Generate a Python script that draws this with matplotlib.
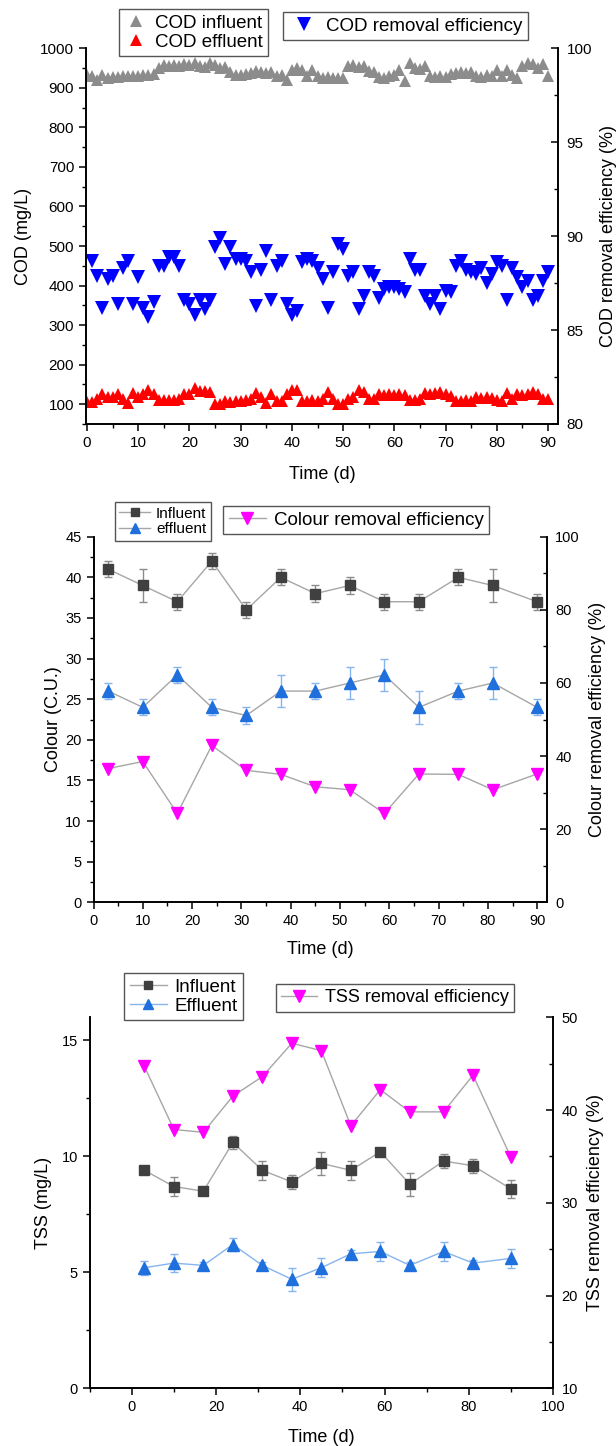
import matplotlib
matplotlib.use('Agg')
import matplotlib.pyplot as plt
from matplotlib.ticker import MultipleLocator
from matplotlib.lines import Line2D

plt.rcParams['font.family'] = ['Liberation Sans', 'DejaVu Sans']
plt.rcParams['axes.linewidth'] = 1.2
plt.rcParams['xtick.major.size'] = 5
plt.rcParams['ytick.major.size'] = 5
plt.rcParams['xtick.minor.size'] = 3
plt.rcParams['ytick.minor.size'] = 3
plt.rcParams['xtick.major.width'] = 1.1
plt.rcParams['ytick.major.width'] = 1.1
plt.rcParams['xtick.minor.width'] = 1.0
plt.rcParams['ytick.minor.width'] = 1.0

# ---- COD (daily) ----
cod_days = list(range(0, 91))
cod_inf = [933, 930, 921, 933, 925, 927, 928, 929, 930, 929, 931, 933, 932, 935, 950, 958,
           955, 958, 956, 960, 957, 964, 955, 952, 962, 958, 950, 952, 940, 933, 932, 935,
           938, 942, 940, 938, 940, 930, 932, 921, 945, 950, 945, 929, 946, 930, 925, 928,
           924, 925, 926, 955, 958, 952, 955, 942, 940, 928, 925, 929, 933, 946, 918, 962,
           950, 948, 955, 929, 927, 930, 928, 935, 938, 940, 937, 940, 930, 928, 932, 929,
           946, 929, 946, 932, 926, 955, 962, 960, 950, 960, 930]
cod_eff = [106, 106, 113, 125, 117, 117, 125, 113, 104, 128, 117, 125, 136, 125, 111, 111,
           110, 111, 113, 125, 125, 142, 134, 134, 132, 100, 100, 108, 106, 108, 108, 110,
           112, 128, 117, 104, 125, 108, 108, 125, 136, 136, 108, 108, 110, 108, 114, 130,
           113, 100, 100, 113, 117, 136, 130, 113, 113, 125, 122, 125, 122, 125, 123, 111,
           111, 113, 128, 126, 128, 130, 125, 121, 108, 108, 110, 108, 117, 115, 117, 115,
           110, 108, 128, 113, 125, 122, 125, 131, 125, 113, 113]
rem_days = list(range(1, 91))
cod_rem = [88.7, 87.9, 86.2, 87.7, 87.9, 86.4, 88.3, 88.7, 86.4, 87.8, 86.2, 85.7, 86.5, 88.4,
           88.4, 88.9, 88.9, 88.4, 86.6, 86.4, 85.8, 86.6, 86.1, 86.6, 89.4, 89.9, 88.5, 89.4,
           88.8, 88.8, 88.7, 88.1, 86.3, 88.2, 89.2, 86.6, 88.4, 88.7, 86.4, 85.8, 86.0, 88.6,
           88.8, 88.7, 88.3, 87.7, 86.2, 88.1, 89.6, 89.3, 87.9, 88.1, 86.1, 86.8, 88.1, 87.9,
           86.7, 87.2, 87.3, 87.3, 87.2, 87.0, 88.8, 88.2, 88.2, 86.8, 86.4, 86.8, 86.1, 87.1,
           87.0, 88.4, 88.7, 88.2, 88.1, 88.0, 88.3, 87.5, 88.0, 88.6, 88.4, 86.6, 88.3, 87.8,
           87.3, 87.6, 86.6, 86.8, 87.6, 88.1]

# ---- Colour ----
col_days = [3, 10, 17, 24, 31, 38, 45, 52, 59, 66, 74, 81, 90]
col_inf = [41, 39, 37, 42, 36, 40, 38, 39, 37, 37, 40, 39, 37]
col_inf_err = [1, 2, 1, 1, 1, 1, 1, 1, 1, 1, 1, 2, 1]
col_eff = [26, 24, 28, 24, 23, 26, 26, 27, 28, 24, 26, 27, 24]
col_eff_err = [1, 1, 1, 1, 1, 2, 1, 2, 2, 2, 1, 2, 1]
col_rem = [36.6, 38.5, 24.3, 42.9, 36.1, 35.0, 31.6, 30.8, 24.3, 35.1, 35.0, 30.8, 35.1]

# ---- TSS ----
tss_days = [3, 10, 17, 24, 31, 38, 45, 52, 59, 66, 74, 81, 90]
tss_inf = [9.4, 8.7, 8.5, 10.6, 9.4, 8.9, 9.7, 9.4, 10.2, 8.8, 9.8, 9.6, 8.6]
tss_inf_err = [0.15, 0.4, 0.1, 0.3, 0.4, 0.3, 0.5, 0.4, 0.15, 0.5, 0.3, 0.3, 0.4]
tss_eff = [5.2, 5.4, 5.3, 6.2, 5.3, 4.7, 5.2, 5.8, 5.9, 5.3, 5.9, 5.4, 5.6]
tss_eff_err = [0.3, 0.4, 0.15, 0.3, 0.15, 0.5, 0.4, 0.15, 0.4, 0.15, 0.4, 0.15, 0.4]
tss_rem = [44.7, 37.9, 37.6, 41.5, 43.6, 47.2, 46.4, 38.3, 42.2, 39.8, 39.8, 43.75, 34.9]

GREY_LINE = '#a6a6a6'
DARK = '#404040'
BLUE = '#1f6fdc'
LBLUE = '#86b4ee'
MAG = '#ff00ff'
LBL = 13

leg_kw = dict(frameon=True, fancybox=False, framealpha=1, edgecolor='#555555',
              borderpad=0.3, labelspacing=0.1, handletextpad=0.4, borderaxespad=0,
              loc='upper left')


def style(ax, ax2, fs):
    ax.spines['top'].set_visible(False)
    ax2.spines['top'].set_visible(False)
    ax.tick_params(which='both', direction='out', right=False, top=False, labelsize=fs)
    ax2.tick_params(which='both', direction='in', left=False, top=False, labelsize=fs, pad=6)


fig = plt.figure(figsize=(6.16, 14.46), dpi=100)

# ================= COD =================
ax = fig.add_axes([0.1396, 0.7068, 0.7667, 0.2598])
ax2 = ax.twinx()
style(ax, ax2, 11)
ax.plot(cod_days, cod_inf, '^', color='#8c8c8c', ms=8.5, mew=0, label='COD influent')
ax.plot(cod_days, cod_eff, '^', color='#ff0000', ms=8.5, mew=0, label='COD effluent')
ax2.plot(rem_days, cod_rem, 'v', color='#0000ff', ms=9.5, mew=0, label='COD removal efficiency')
ax.set_xlim(-0.2, 92)
ax.set_ylim(50, 1000)
ax2.set_ylim(80, 100)
ax.xaxis.set_major_locator(MultipleLocator(10))
ax.xaxis.set_minor_locator(MultipleLocator(5))
ax.yaxis.set_major_locator(MultipleLocator(100))
ax.yaxis.set_minor_locator(MultipleLocator(50))
ax2.yaxis.set_major_locator(MultipleLocator(5))
ax2.yaxis.set_minor_locator(MultipleLocator(2.5))
ax.set_xlabel('Time (d)', fontsize=LBL)
ax.set_ylabel('COD (mg/L)', fontsize=LBL)
ax2.set_ylabel('COD removal efficiency (%)', fontsize=LBL)
ax.xaxis.set_label_coords(0.5, -0.112)
ax.yaxis.set_label_coords(-0.114, 0.5)
ax2.yaxis.set_label_coords(1.089, 0.5)
ax.legend(bbox_to_anchor=(0.1932, 0.9938), bbox_transform=fig.transFigure,
          fontsize=13.5, handlelength=1.2, **leg_kw)
ax2.legend(bbox_to_anchor=(0.4594, 0.9917), bbox_transform=fig.transFigure,
           fontsize=13.5, handlelength=1.6, **leg_kw)

# ================= Colour =================
ax = fig.add_axes([0.1518, 0.376, 0.7362, 0.2528])
ax2 = ax.twinx()
style(ax, ax2, 10.5)
ax.errorbar(col_days, col_inf, yerr=col_inf_err, fmt='-s', color=GREY_LINE, ecolor='#8c8c8c',
            mfc=DARK, mec=DARK, ms=7, lw=1, elinewidth=1, capsize=3, capthick=1)
ax.errorbar(col_days, col_eff, yerr=col_eff_err, fmt='-^', color=GREY_LINE, ecolor=LBLUE,
            mfc=BLUE, mec=BLUE, ms=8.5, lw=1, elinewidth=1, capsize=3, capthick=1)
ax2.plot(col_days, col_rem, '-v', color=GREY_LINE, mfc=MAG, mec=MAG, ms=9, lw=1)
ax.set_xlim(0, 92)
ax.set_ylim(0, 45)
ax2.set_ylim(0, 100)
ax.xaxis.set_major_locator(MultipleLocator(10))
ax.xaxis.set_minor_locator(MultipleLocator(5))
ax.yaxis.set_major_locator(MultipleLocator(5))
ax.yaxis.set_minor_locator(MultipleLocator(2.5))
ax2.yaxis.set_major_locator(MultipleLocator(20))
ax2.yaxis.set_minor_locator(MultipleLocator(10))
ax.set_xlabel('Time (d)', fontsize=LBL)
ax.set_ylabel('Colour (C.U.)', fontsize=LBL)
ax2.set_ylabel('Colour removal efficiency (%)', fontsize=LBL)
ax.xaxis.set_label_coords(0.5, -0.106)
ax.yaxis.set_label_coords(-0.069, 0.5)
ax2.yaxis.set_label_coords(1.093, 0.5)
h_inf = Line2D([], [], color=GREY_LINE, marker='s', mfc=DARK, mec=DARK, ms=6, lw=1)
h_eff = Line2D([], [], color=GREY_LINE, marker='^', mfc=BLUE, mec=BLUE, ms=7, lw=1)
h_rem = Line2D([], [], color=GREY_LINE, marker='v', mfc=MAG, mec=MAG, ms=8, lw=1)
ax.legend([h_inf, h_eff], ['Influent', 'effluent'], bbox_to_anchor=(0.1862, 0.6528),
          bbox_transform=fig.transFigure, fontsize=11, handlelength=2.0, **leg_kw)
ax2.legend([h_rem], ['Colour removal efficiency'], bbox_to_anchor=(0.362, 0.650),
           bbox_transform=fig.transFigure, fontsize=13.5, handlelength=2.0, **leg_kw)

# ================= TSS =================
ax = fig.add_axes([0.1455, 0.0399, 0.7523, 0.2566])
ax2 = ax.twinx()
style(ax, ax2, 10.5)
ax.errorbar(tss_days, tss_inf, yerr=tss_inf_err, fmt='-s', color=GREY_LINE, ecolor='#8c8c8c',
            mfc=DARK, mec=DARK, ms=7, lw=1, elinewidth=1, capsize=3, capthick=1)
ax.errorbar(tss_days, tss_eff, yerr=tss_eff_err, fmt='-^', color=LBLUE, ecolor=LBLUE,
            mfc=BLUE, mec=BLUE, ms=8.5, lw=1, elinewidth=1, capsize=3, capthick=1)
ax2.plot(tss_days, tss_rem, '-v', color=GREY_LINE, mfc=MAG, mec=MAG, ms=9, lw=1)
ax.set_xlim(-10, 100)
ax.set_ylim(0, 16)
ax2.set_ylim(10, 50)
ax.xaxis.set_major_locator(MultipleLocator(20))
ax.xaxis.set_minor_locator(MultipleLocator(10))
ax.yaxis.set_major_locator(MultipleLocator(5))
ax.yaxis.set_minor_locator(MultipleLocator(2.5))
ax2.yaxis.set_major_locator(MultipleLocator(10))
ax2.yaxis.set_minor_locator(MultipleLocator(5))
ax.set_xlabel('Time (d)', fontsize=LBL)
ax.set_ylabel('TSS (mg/L)', fontsize=LBL)
ax2.set_ylabel('TSS removal efficiency (%)', fontsize=LBL)
ax.xaxis.set_label_coords(0.5, -0.11)
ax.yaxis.set_label_coords(-0.081, 0.5)
ax2.yaxis.set_label_coords(1.073, 0.5)
t_inf = Line2D([], [], color=GREY_LINE, marker='s', mfc=DARK, mec=DARK, ms=6, lw=1)
t_eff = Line2D([], [], color=LBLUE, marker='^', mfc=BLUE, mec=BLUE, ms=7, lw=1)
t_rem = Line2D([], [], color=GREY_LINE, marker='v', mfc=MAG, mec=MAG, ms=8, lw=1)
ax.legend([t_inf, t_eff], ['Influent', 'Effluent'], bbox_to_anchor=(0.2013, 0.3271),
          bbox_transform=fig.transFigure, fontsize=13.5, handlelength=2.0, **leg_kw)
ax2.legend([t_rem], ['TSS removal efficiency'], bbox_to_anchor=(0.448, 0.3195),
           bbox_transform=fig.transFigure, fontsize=13, handlelength=2.0, **leg_kw)

fig.savefig('out.png', dpi=100)
